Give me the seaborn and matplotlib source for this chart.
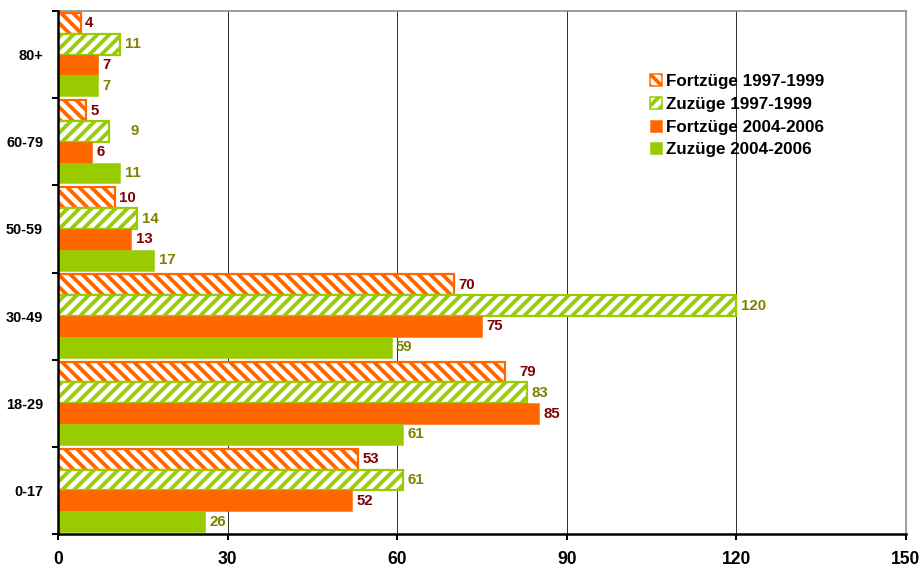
import matplotlib
matplotlib.use("Agg")
import matplotlib.pyplot as plt
from matplotlib.ticker import FixedLocator, NullFormatter
import seaborn as sns
import pandas as pd

# Age groups (top to bottom) and migration series
age_groups = ["80+", "60-79", "50-59", "30-49", "18-29", "0-17"]
series = ["Fortzüge 1997-1999", "Zuzüge 1997-1999",
          "Fortzüge 2004-2006", "Zuzüge 2004-2006"]
fortzuege_1997 = [4, 5, 10, 70, 79, 53]
zuzuege_1997 = [11, 9, 14, 120, 83, 61]
fortzuege_2004 = [7, 6, 13, 75, 85, 52]
zuzuege_2004 = [7, 11, 17, 59, 61, 26]
x_ticks = [0, 30, 60, 90, 120, 150]

values = [fortzuege_1997, zuzuege_1997, fortzuege_2004, zuzuege_2004]
df = pd.DataFrame({
    "Altersgruppe": age_groups * len(series),
    "Serie": [s for s in series for _ in age_groups],
    "Anzahl": [v for vals in values for v in vals],
})

ORANGE = "#FF6600"
GREEN = "#99CC00"
bar_colors = [ORANGE, GREEN, ORANGE, GREEN]
label_colors = ["#800000", "#808000", "#800000", "#808000"]
hatches = ["\\\\", "//", None, None]

sns.set_theme(style="white")
plt.rcParams["font.family"] = ["Liberation Sans", "DejaVu Sans"]
plt.rcParams["hatch.linewidth"] = 3.8
plt.rcParams["text.color"] = "black"

fig = plt.figure(figsize=(922 / 72, 571 / 72), dpi=72)
ax = fig.add_axes([58 / 922, 1 - 534 / 571, 848 / 922, 523 / 571])

sns.barplot(data=df, y="Altersgruppe", x="Anzahl", hue="Serie",
            order=age_groups, hue_order=series, orient="h",
            palette=bar_colors, width=0.955, gap=0, saturation=1,
            ax=ax, legend=True)


def style_patch(patch, i, lw=2.2):
    if hatches[i]:
        patch.set_facecolor("white")
        patch.set_edgecolor(bar_colors[i])
        patch.set_hatch(hatches[i])
        patch.set_linewidth(lw)
    else:
        patch.set_facecolor(bar_colors[i])
        patch.set_edgecolor(bar_colors[i])
        patch.set_linewidth(0.5)


for i, cont in enumerate(ax.containers):
    for patch in cont:
        style_patch(patch, i)

# value labels next to each bar
extra_pad = {("60-79", 1): 3.0, ("18-29", 0): 1.8}
for i, cont in enumerate(ax.containers):
    for j, patch in enumerate(cont):
        v = values[i][j]
        y = patch.get_y() + patch.get_height() / 2
        pad = 0.8 + extra_pad.get((age_groups[j], i), 0)
        ax.text(v + pad, y, str(v), ha="left", va="center",
                fontsize=15, fontweight="bold", color=label_colors[i])

ax.set_xlim(0, 150)
ax.set_ylim(len(age_groups) - 0.5, -0.5)
ax.set_xticks(x_ticks)
ax.set_xticklabels([str(t) for t in x_ticks], fontsize=17.5, fontweight="bold")
ax.set_xlabel("")
ax.set_ylabel("")
for lbl in ax.get_yticklabels():
    lbl.set_fontsize(14.5)
    lbl.set_fontweight("bold")

ax.tick_params(axis="y", which="major", length=0, pad=15, colors="black")
ax.yaxis.set_minor_locator(FixedLocator([k - 0.5 for k in range(len(age_groups) + 1)]))
ax.yaxis.set_minor_formatter(NullFormatter())
ax.tick_params(axis="y", which="minor", left=True, length=6, width=2, color="black")
ax.tick_params(axis="x", which="major", bottom=True, length=6, width=2,
               color="black", pad=11, labelcolor="black")

ax.grid(axis="x", color="#333333", linewidth=1)
ax.set_axisbelow(True)
for side in ["top", "right"]:
    ax.spines[side].set_color("#808080")
    ax.spines[side].set_linewidth(1.5)
for side in ["left", "bottom"]:
    ax.spines[side].set_color("black")
    ax.spines[side].set_linewidth(2.5)
    ax.spines[side].set_zorder(5)

leg = ax.legend(loc="upper left", bbox_to_anchor=(0.69, 0.892), frameon=False,
                prop={"weight": "bold", "size": 17}, handlelength=0.7,
                handleheight=0.7, handletextpad=0.25, labelspacing=0.45,
                borderaxespad=0)
for t in leg.get_texts():
    t.set_color("black")
for i, h in enumerate(leg.legend_handles):
    style_patch(h, i, lw=1.5)

fig.savefig("out.png", dpi=72, facecolor="white")
